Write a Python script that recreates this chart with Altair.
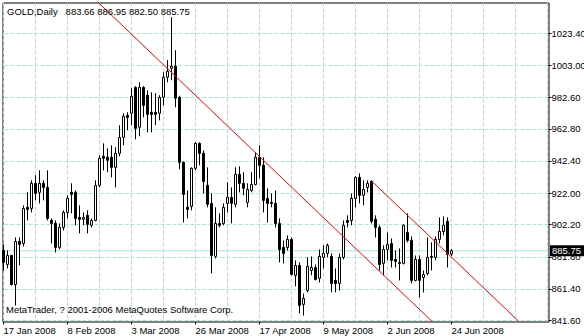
import altair as alt
import pandas as pd

symbol = "GOLD"
period = "Daily"

opens = [886.0, 877.1, 882.8, 864.4, 891.7, 890.4, 913.3, 912.6, 928.5, 922.8,
         928.5, 925.9, 905.0, 903.1, 887.9, 900.6, 910.1, 922.8, 922.8, 906.9,
         905.7, 908.2, 901.9, 905.0, 927.2, 945.6, 945.0, 945.0, 938.6, 947.5,
         957.6, 971.6, 972.9, 989.3, 964.0, 989.3, 984.3, 973.5, 973.5, 972.9,
         983.0, 995.7, 1001.4, 1002.7, 983.0, 941.8, 913.3, 913.9, 938.0, 953.8,
         947.5, 927.2, 915.8, 882.2, 903.1, 903.1, 915.8, 919.6, 915.2, 934.2,
         928.5, 916.4, 924.0, 927.8, 945.0, 939.9, 918.9, 916.4, 915.8, 903.1,
         887.9, 887.9, 893.0, 870.2, 876.5, 851.8, 860.6, 873.3, 875.2, 868.3,
         881.6, 884.1, 882.2, 867.0, 865.1, 881.6, 905.0, 905.0, 918.9, 932.3,
         920.9, 925.9, 929.7, 905.7, 900.6, 877.8, 886.6, 890.4, 880.3, 878.4,
         877.8, 897.4, 892.3, 867.0, 880.3, 868.9, 871.4, 882.2, 881.6, 893.0,
         898.0, 904.4, 883.66]

highs = [889.8, 886.0, 883.1, 894.2, 894.2, 914.5, 922.8, 930.4, 933.6, 936.7,
         930.4, 936.7, 906.3, 905.0, 903.1, 911.4, 920.9, 928.5, 924.0, 914.5,
         910.1, 911.4, 906.3, 930.4, 946.2, 953.8, 950.7, 952.6, 951.3, 965.3,
         972.9, 973.5, 988.7, 990.0, 992.5, 990.0, 987.4, 986.2, 985.6, 984.3,
         998.9, 1006.5, 1033.7, 1012.8, 984.0, 942.4, 924.0, 938.6, 954.5, 954.5,
         949.4, 938.6, 922.1, 913.3, 909.5, 915.8, 929.1, 925.9, 938.6, 939.3,
         935.5, 928.5, 935.5, 948.1, 952.6, 945.0, 925.3, 922.1, 924.0, 906.3,
         892.3, 895.5, 894.2, 879.7, 878.4, 858.7, 881.6, 882.2, 877.1, 886.6,
         889.2, 890.4, 884.1, 874.6, 884.1, 905.0, 908.2, 922.1, 932.9, 934.8,
         930.4, 930.4, 930.4, 908.2, 901.9, 889.2, 897.4, 893.6, 886.0, 887.3,
         902.5, 909.5, 894.9, 882.8, 882.8, 873.3, 894.2, 891.1, 894.9, 906.9,
         907.6, 906.9, 886.95]

lows = [873.3, 874.6, 863.8, 851.1, 876.5, 888.5, 905.0, 910.1, 917.7, 915.8,
        917.7, 905.0, 890.4, 884.7, 886.6, 898.7, 906.3, 909.5, 901.9, 896.8,
        901.9, 896.8, 900.6, 904.4, 925.9, 936.7, 935.5, 932.3, 925.9, 945.6,
        952.6, 962.1, 965.3, 956.4, 958.3, 970.3, 960.8, 960.8, 965.3, 968.4,
        977.9, 992.5, 993.8, 976.7, 937.4, 903.7, 906.3, 911.4, 936.7, 939.9,
        922.1, 913.3, 871.4, 880.9, 900.6, 901.9, 910.1, 903.1, 913.3, 922.8,
        920.9, 913.3, 922.8, 927.2, 931.7, 910.1, 903.7, 913.3, 900.6, 878.4,
        877.8, 886.0, 870.2, 863.2, 846.1, 844.8, 859.4, 870.2, 867.0, 865.7,
        874.6, 881.6, 859.4, 859.4, 860.6, 880.3, 900.6, 901.9, 913.3, 915.8,
        914.5, 922.8, 903.1, 894.2, 873.3, 870.2, 879.7, 875.2, 875.2, 867.0,
        877.1, 891.1, 865.1, 866.4, 856.2, 859.4, 870.2, 873.3, 879.7, 890.4,
        895.5, 875.2, 882.50]

closes = [878.4, 882.8, 864.4, 891.7, 889.8, 912.6, 912.0, 928.5, 922.1, 928.5,
          925.9, 906.3, 903.1, 887.9, 900.6, 910.1, 918.9, 921.5, 906.3, 905.7,
          906.9, 902.5, 905.0, 927.2, 944.3, 944.3, 943.1, 938.6, 947.5, 957.6,
          971.0, 970.3, 983.6, 963.3, 989.3, 977.9, 972.2, 972.2, 972.2, 983.0,
          995.7, 999.5, 1002.7, 982.4, 941.8, 921.5, 912.0, 938.0, 953.8, 947.5,
          929.7, 915.2, 882.8, 903.1, 901.9, 913.3, 919.6, 915.8, 934.2, 928.5,
          925.3, 924.7, 927.8, 945.0, 939.9, 917.7, 915.8, 915.8, 903.1, 886.6,
          884.1, 893.0, 870.8, 876.5, 851.1, 855.6, 875.9, 875.2, 867.6, 882.2,
          884.1, 889.2, 865.1, 865.1, 881.6, 901.9, 903.7, 918.9, 932.3, 920.9,
          924.7, 928.5, 904.4, 900.6, 877.1, 886.6, 889.8, 879.7, 879.0, 877.8,
          901.9, 892.3, 867.0, 880.3, 867.0, 870.8, 881.6, 881.6, 893.0, 898.0,
          901.9, 883.5, 885.75]

tick_bars = [0, 16, 32, 48, 64, 80, 96, 112]
tick_labels = ["17 Jan 2008", "8 Feb 2008", "3 Mar 2008", "26 Mar 2008",
               "17 Apr 2008", "9 May 2008", "2 Jun 2008", "24 Jun 2008"]
grid_bars = list(range(0, 137, 8))
price_ticks = [841.6, 861.4, 881.8, 902.2, 922.0, 942.4, 962.8, 982.6, 1003.0, 1023.4]

trend_id = ["a", "a", "b", "b"]
trend_bar = [20, 110, 92, 136]
trend_price = [1052.0, 834.1, 930.0, 823.7]

copyright_text = "MetaTrader, ? 2001-2006 MetaQuotes Software Corp."

n = len(opens)
df = pd.DataFrame({"bar": list(range(n)), "open": opens, "high": highs,
                   "low": lows, "close": closes})
df["up"] = df["close"] >= df["open"]

GRID = "#aee0e0"
FONT = "Liberation Sans"
FS = 9.5

xscale = alt.Scale(domain=[-0.25, 136.25], nice=False, zero=False)
yscale = alt.Scale(domain=[840.97, 1043.04], nice=False, zero=False)

label_expr = " : ".join(f"datum.value == {b} ? '{t}'" for b, t in zip(tick_bars, tick_labels)) + " : ''"

xaxis = alt.Axis(values=tick_bars, labelExpr=label_expr, grid=False, domain=False,
                 ticks=True, tickSize=3, tickColor="black", labelAlign="left",
                 labelBaseline="top", labelPadding=1.5, labelFont=FONT, labelFontSize=FS,
                 labelColor="black", labelFlush=False, labelOverlap=False, title=None,
                 translate=0)
yaxis = alt.Axis(orient="right", values=price_ticks, format=".2f", grid=True,
                 gridColor=GRID, gridDash=[4, 2], gridWidth=1, domain=False,
                 ticks=True, tickSize=3, tickColor="black", labelPadding=0,
                 labelFont=FONT, labelFontSize=FS, labelColor="black",
                 labelBaseline="middle", labelAlign="left", labelFlush=False,
                 labelOverlap=False, title=None, translate=0)

vgrid = alt.Chart(pd.DataFrame({"bar": grid_bars})).mark_rule(
    color=GRID, strokeDash=[4, 2], strokeWidth=1
).encode(x=alt.X("bar:Q", scale=xscale, axis=xaxis))

last = pd.DataFrame({"price": [closes[-1]], "label": [f"{closes[-1]:.2f}"]})

price_line = alt.Chart(last).mark_rule(color=GRID, strokeWidth=1).encode(
    y=alt.Y("price:Q", scale=yscale, axis=yaxis))

wicks = alt.Chart(df).mark_rule(color="black", strokeWidth=1).encode(
    x=alt.X("bar:Q", scale=xscale, axis=xaxis),
    y=alt.Y("high:Q", scale=yscale, axis=yaxis),
    y2="low:Q")

bodies = alt.Chart(df).transform_calculate(
    x1="datum.bar - 0.25", x2="datum.bar + 0.25"
).mark_rect(stroke="black", strokeWidth=1).encode(
    x=alt.X("x1:Q", scale=xscale, axis=xaxis),
    x2="x2:Q",
    y=alt.Y("open:Q", scale=yscale, axis=yaxis),
    y2="close:Q",
    fill=alt.condition("datum.up", alt.value("white"), alt.value("black")))

trend = alt.Chart(pd.DataFrame({"id": trend_id, "bar": trend_bar, "price": trend_price})).mark_line(
    color="#ff0000", strokeWidth=1, clip=True
).encode(
    x=alt.X("bar:Q", scale=xscale, axis=xaxis),
    y=alt.Y("price:Q", scale=yscale, axis=yaxis),
    detail="id:N")

price_box = alt.Chart(last).mark_tick(color="black", thickness=11, size=34, opacity=1).encode(
    y=alt.Y("price:Q", scale=yscale, axis=yaxis), x=alt.value(564.5))

price_text = alt.Chart(last).mark_text(
    color="white", font=FONT, fontSize=FS, align="left", baseline="middle"
).encode(y=alt.Y("price:Q", scale=yscale, axis=yaxis), x=alt.value(549.5), text="label:N")

header = f"{symbol},{period}\u00a0\u00a0\u00a0{opens[-1]:.2f} {highs[-1]:.2f} {lows[-1]:.2f} {closes[-1]:.2f}"
header_text = alt.Chart(pd.DataFrame({"t": [header]})).mark_text(
    color="black", font=FONT, fontSize=FS, align="left", baseline="alphabetic"
).encode(x=alt.value(4.5), y=alt.value(12.5), text="t:N")

copy_text = alt.Chart(pd.DataFrame({"t": [copyright_text]})).mark_text(
    color="black", font=FONT, fontSize=FS, align="left", baseline="alphabetic"
).encode(x=alt.value(3.5), y=alt.value(310.5), text="t:N")

chart = alt.layer(
    vgrid, price_line, wicks, bodies, trend, price_box, price_text, header_text, copy_text
).properties(
    width=546, height=319,
    padding={"left": 2.5, "top": 2.5, "right": 35.5, "bottom": 14.5},
    autosize=alt.AutoSizeParams(type="none"),
    background="white",
).configure_view(stroke="black", strokeWidth=1)

chart.save("out.html", embed_options={"renderer": "svg", "actions": False})
